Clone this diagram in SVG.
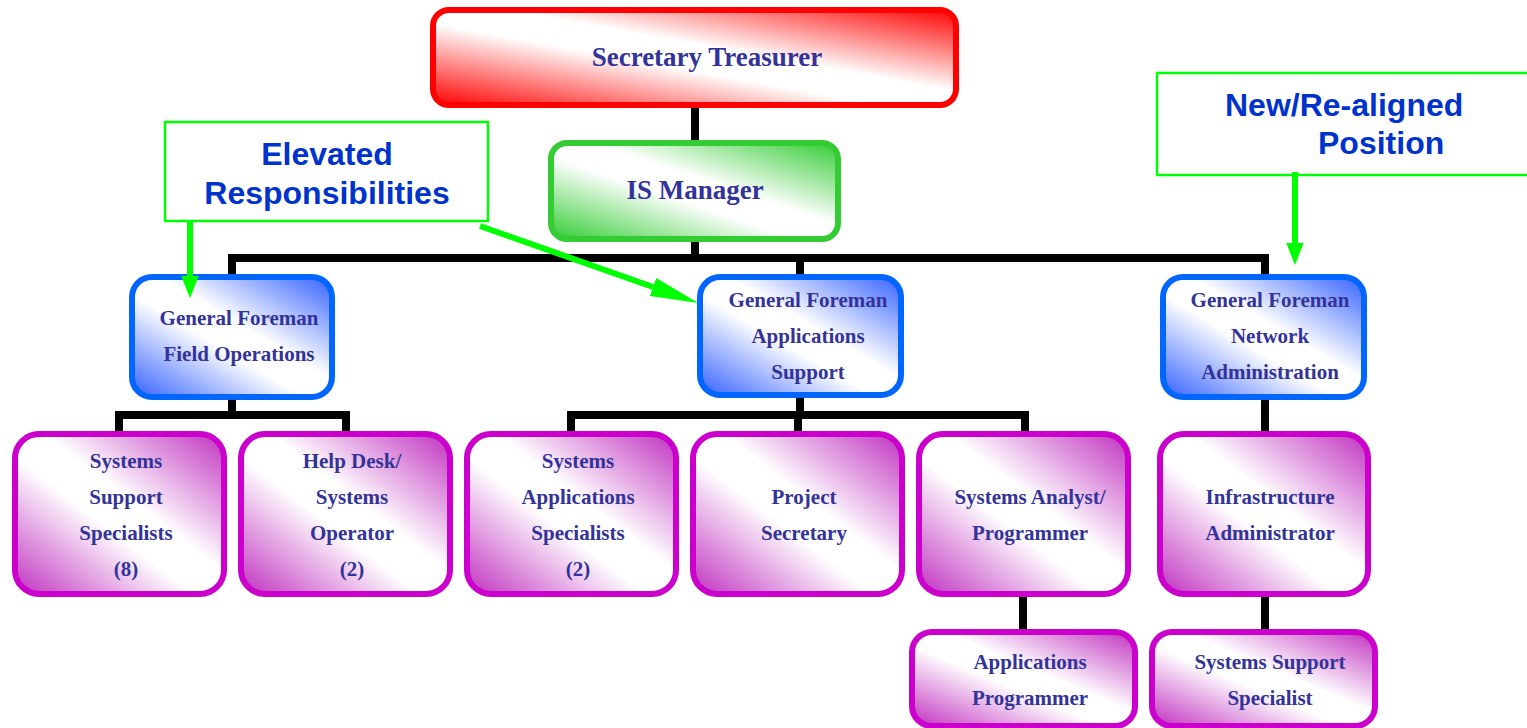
<svg xmlns="http://www.w3.org/2000/svg" width="1527" height="728" viewBox="0 0 1527 728">
  <defs>
    <linearGradient id="gRed" x1="1" y1="0" x2="0" y2="1">
      <stop offset="0" stop-color="#ff0000"/>
      <stop offset="0.43" stop-color="#ffffff"/>
      <stop offset="0.57" stop-color="#ffffff"/>
      <stop offset="1" stop-color="#ff0000"/>
    </linearGradient>
    <linearGradient id="gGreen" x1="1" y1="0" x2="0" y2="1">
      <stop offset="0" stop-color="#33cc33"/>
      <stop offset="0.43" stop-color="#ffffff"/>
      <stop offset="0.57" stop-color="#ffffff"/>
      <stop offset="1" stop-color="#33cc33"/>
    </linearGradient>
    <linearGradient id="gBlue" x1="1" y1="0" x2="0" y2="1">
      <stop offset="0" stop-color="#3360ff"/>
      <stop offset="0.43" stop-color="#ffffff"/>
      <stop offset="0.57" stop-color="#ffffff"/>
      <stop offset="1" stop-color="#3360ff"/>
    </linearGradient>
    <linearGradient id="gPurple" x1="1" y1="0" x2="0" y2="1">
      <stop offset="0" stop-color="#c030c0"/>
      <stop offset="0.43" stop-color="#ffffff"/>
      <stop offset="0.57" stop-color="#ffffff"/>
      <stop offset="1" stop-color="#c030c0"/>
    </linearGradient>
    <marker id="greenHead" viewBox="0 0 10 10" refX="0" refY="5" markerWidth="3.7" markerHeight="2.9" orient="auto" preserveAspectRatio="none">
      <path d="M0,0 L10,5 L0,10 z" fill="#00ff00"/>
    </marker>
    <marker id="greenHeadLong" viewBox="0 0 10 10" refX="0" refY="5" markerWidth="8" markerHeight="3.2" orient="auto" preserveAspectRatio="none">
      <path d="M0,0 L10,5 L0,10 z" fill="#00ff00"/>
    </marker>
  </defs>
  <style>
    .red { fill: url(#gRed); stroke: #ff0000; stroke-width: 6; }
    .green { fill: url(#gGreen); stroke: #33cc33; stroke-width: 6; }
    .blue { fill: url(#gBlue); stroke: #0066ff; stroke-width: 6; }
    .purple { fill: url(#gPurple); stroke: #cc00cc; stroke-width: 6; }
    .lbl { font-family: "Liberation Serif", "Times New Roman", serif; font-weight: bold; fill: #333399; text-anchor: middle; }
    .big { font-size: 27px; }
    .mid { font-size: 21px; }
    .conn { fill: none; stroke: #000000; stroke-width: 8; stroke-linejoin: miter; }
    .note { fill: #ffffff; stroke: #00ff00; stroke-width: 2.5; }
    .noteText { font-family: "Liberation Sans", Arial, sans-serif; font-weight: bold; font-size: 32px; fill: #0033cc; }
    .pointer { stroke: #00ff00; stroke-width: 6; fill: none; marker-end: url(#greenHead); }
    .pointer.long { marker-end: url(#greenHeadLong); }
  </style>

  <rect width="1527" height="728" fill="#ffffff"/>

  <!-- reporting lines -->
  <g id="connectors">
    <path class="conn" d="M695,105 V143"/>
    <path class="conn" d="M695,239 V258"/>
    <path class="conn" d="M232,278 V258 H1265 V278"/>
    <path class="conn" d="M800,258 V278"/>
    <path class="conn" d="M232,397 V415"/>
    <path class="conn" d="M119,435 V415 H346 V435"/>
    <path class="conn" d="M800,395 V415"/>
    <path class="conn" d="M571,435 V415 H1025 V435"/>
    <path class="conn" d="M798,415 V435"/>
    <path class="conn" d="M1023,595 V632"/>
    <path class="conn" d="M1265,397 V433"/>
    <path class="conn" d="M1265,595 V632"/>
  </g>

  <g id="secretary-treasurer">
    <rect class="red" x="433" y="10" width="523" height="95" rx="16"/>
    <text class="lbl big" x="707" y="66">Secretary Treasurer</text>
  </g>

  <g id="is-manager">
    <rect class="green" x="551" y="143" width="287" height="96" rx="16"/>
    <text class="lbl big" x="695" y="199">IS Manager</text>
  </g>

  <g id="gf-field-operations">
    <rect class="blue" x="132" y="277" width="200" height="120" rx="20"/>
    <text class="lbl mid" x="239" y="325">General Foreman</text>
    <text class="lbl mid" x="239" y="361">Field Operations</text>
  </g>

  <g id="gf-applications-support">
    <rect class="blue" x="700" y="277" width="201" height="118" rx="20"/>
    <text class="lbl mid" x="808" y="307">General Foreman</text>
    <text class="lbl mid" x="808" y="343">Applications</text>
    <text class="lbl mid" x="808" y="379">Support</text>
  </g>

  <g id="gf-network-administration">
    <rect class="blue" x="1163" y="277" width="201" height="120" rx="20"/>
    <text class="lbl mid" x="1270" y="307">General Foreman</text>
    <text class="lbl mid" x="1270" y="343">Network</text>
    <text class="lbl mid" x="1270" y="379">Administration</text>
  </g>

  <g id="systems-support-specialists">
    <rect class="purple" x="15" y="434" width="209" height="160" rx="24"/>
    <text class="lbl mid" x="126" y="468">Systems</text>
    <text class="lbl mid" x="126" y="504">Support</text>
    <text class="lbl mid" x="126" y="540">Specialists</text>
    <text class="lbl mid" x="126" y="576">(8)</text>
  </g>

  <g id="help-desk-operator">
    <rect class="purple" x="241" y="434" width="209" height="160" rx="24"/>
    <text class="lbl mid" x="352" y="468">Help Desk/</text>
    <text class="lbl mid" x="352" y="504">Systems</text>
    <text class="lbl mid" x="352" y="540">Operator</text>
    <text class="lbl mid" x="352" y="576">(2)</text>
  </g>

  <g id="systems-applications-specialists">
    <rect class="purple" x="467" y="434" width="209" height="160" rx="24"/>
    <text class="lbl mid" x="578" y="468">Systems</text>
    <text class="lbl mid" x="578" y="504">Applications</text>
    <text class="lbl mid" x="578" y="540">Specialists</text>
    <text class="lbl mid" x="578" y="576">(2)</text>
  </g>

  <g id="project-secretary">
    <rect class="purple" x="693" y="434" width="209" height="160" rx="24"/>
    <text class="lbl mid" x="804" y="504">Project</text>
    <text class="lbl mid" x="804" y="540">Secretary</text>
  </g>

  <g id="systems-analyst-programmer">
    <rect class="purple" x="919" y="434" width="209" height="160" rx="24"/>
    <text class="lbl mid" x="1030" y="504">Systems Analyst/</text>
    <text class="lbl mid" x="1030" y="540">Programmer</text>
  </g>

  <g id="infrastructure-administrator">
    <rect class="purple" x="1160" y="434" width="208" height="160" rx="24"/>
    <text class="lbl mid" x="1270" y="504">Infrastructure</text>
    <text class="lbl mid" x="1270" y="540">Administrator</text>
  </g>

  <g id="applications-programmer">
    <rect class="purple" x="912" y="632" width="223" height="94" rx="20"/>
    <text class="lbl mid" x="1030" y="669">Applications</text>
    <text class="lbl mid" x="1030" y="705">Programmer</text>
  </g>

  <g id="systems-support-specialist">
    <rect class="purple" x="1152" y="632" width="223" height="94" rx="20"/>
    <text class="lbl mid" x="1270" y="669">Systems Support</text>
    <text class="lbl mid" x="1270" y="705">Specialist</text>
  </g>

  <!-- callouts -->
  <g id="note-elevated">
    <rect class="note" x="165" y="122" width="323" height="99"/>
    <text class="noteText" x="327" y="165" text-anchor="middle">Elevated</text>
    <text class="noteText" x="327" y="204" text-anchor="middle">Responsibilities</text>
  </g>

  <g id="note-new-position">
    <rect class="note" x="1157" y="73" width="380" height="102"/>
    <text class="noteText" x="1225" y="116">New/Re-aligned</text>
    <text class="noteText" x="1318" y="154">Position</text>
  </g>

  <g id="note-pointers">
    <path class="pointer" d="M190,222 V276"/>
    <path class="pointer long" d="M480,226 L653,287"/>
    <path class="pointer" d="M1295,172 V243"/>
  </g>
</svg>
